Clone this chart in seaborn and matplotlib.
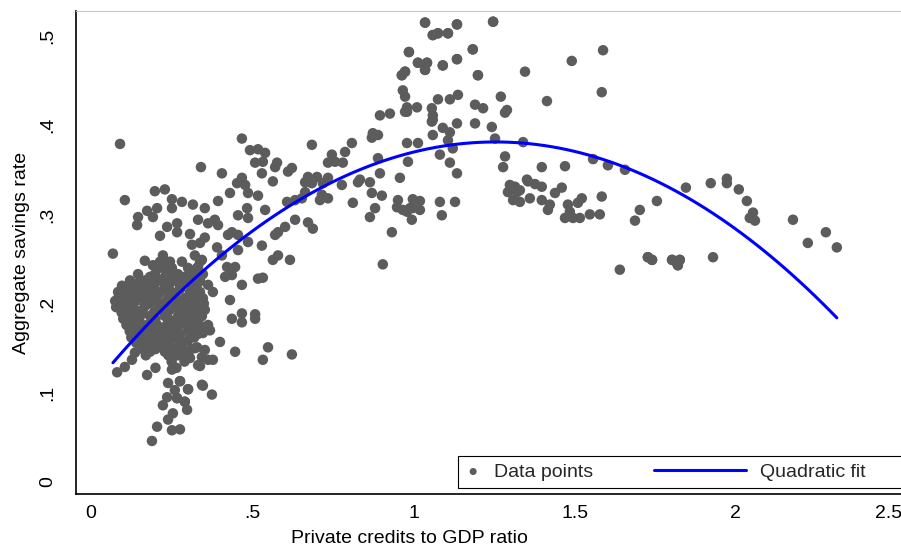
import numpy as np
import pandas as pd
import matplotlib
matplotlib.use("Agg")
import matplotlib.pyplot as plt
import matplotlib.transforms as mtransforms
import seaborn as sns
from matplotlib.lines import Line2D
from matplotlib.legend_handler import HandlerLine2D

# ---------------- data ----------------
x_a = [.090, .341, .198, .229, .105, .251, .282, .316, .174, .205, .251, .146, .192, .332,
       .143, .236, .267, .267, .307, .214, .313, .338, .068, .223, .167, .192, .322]
y_a = [.379, .353, .326, .328, .316, .317, .314, .311, .304, .307, .307, .297, .297, .294,
       .288, .286, .290, .280, .278, .276, .266, .268, .256, .254, .248, .243, .254]

x_b = [.081, .105, .127, .136, .167, .174, .251, .239, .276, .301, .260, .236, .267, .223,
       .291, .298, .254, .239, .205, .251, .276, .189, .344, .332, .344, .301, .322]
y_b = [.123, .129, .137, .145, .154, .120, .126, .111, .113, .104, .103, .095, .094, .086,
       .090, .081, .077, .070, .062, .058, .059, .046, .109, .131, .140, .142, .150]

x_blob = [.214, .245, .282, .338,
          .214, .229, .251, .301, .329,
          .146, .198, .239, .270, .313, .347,
          .121, .167, .214, .260, .291, .338,
          .096, .121, .183, .229, .276, .322,
          .084, .115, .146, .177, .214, .251, .307, .338,
          .084, .115, .158, .198, .239, .291, .332,
          .090, .121, .183, .220, .260, .313, .350,
          .105, .136, .208, .245, .282, .326,
          .115, .152, .183, .229, .270, .307, .344,
          .121, .152, .189, .251, .291, .332,
          .127, .167, .214, .260, .313,
          .136, .183, .229, .276, .332,
          .152, .198, .245, .301,
          .214, .270,
          .183, .229, .291,
          .251, .307]
y_blob = [.247, .247, .247, .247,
          .240, .240, .240, .240, .240,
          .233, .233, .233, .233, .233, .233,
          .226, .226, .226, .226, .226, .226,
          .220, .220, .220, .220, .220, .220,
          .213, .213, .213, .213, .213, .213, .213, .213,
          .206, .206, .206, .206, .206, .206, .206,
          .200, .200, .200, .200, .200, .200, .200,
          .193, .193, .193, .193, .193, .193,
          .186, .186, .186, .186, .186, .186, .186,
          .179, .179, .179, .179, .179, .179,
          .173, .173, .173, .173, .173,
          .166, .166, .166, .166, .166,
          .159, .159, .159, .159,
          .152, .152,
          .146, .146, .146,
          .139, .139]

x_dense = [.183, .229, .291, .325,
           .146, .198, .245, .307,
           .105, .136, .167, .198, .229, .276, .320,
           .100, .130, .170, .208, .262, .315,
           .075, .140, .200, .240, .280, .330,
           .078, .120, .165, .225, .265, .300, .340,
           .095, .125, .160, .195, .235, .300,
           .100, .140, .200, .240, .285, .325,
           .110, .140, .175, .205, .235, .275, .310,
           .120, .150, .195, .245, .300,
           .125, .160, .185, .215, .265, .320,
           .140, .180, .230, .285,
           .160, .200, .250, .310,
           .170, .240, .270,
           .250, .290,
           .200, .265]
y_dense = [.230, .230, .230, .230,
           .223, .223, .223, .223,
           .216, .216, .216, .216, .216, .216, .216,
           .209, .209, .209, .209, .209, .209,
           .203, .203, .203, .203, .203, .203,
           .196, .196, .196, .196, .196, .196, .196,
           .190, .190, .190, .190, .190, .190,
           .183, .183, .183, .183, .183, .183,
           .176, .176, .176, .176, .176, .176, .176,
           .169, .169, .169, .169, .169,
           .162, .162, .162, .162, .162, .162,
           .156, .156, .156, .156,
           .149, .149, .149, .149,
           .142, .142, .142,
           .135, .135,
           .128, .128]

x_c = [.468, .493, .518, .540, .509, .533, .571, .577, .623, .611, .530, .406, .564, .468,
       .453, .478, .431, .487, .518, .394, .353, .484, .456, .487, .540, .608, .633, .654,
       .363, .384, .394, .633, .602, .580, .571, .437, .456, .425, .487, .353, .530, .391,
       .456, .406, .580, .564, .617, .422, .447, .437, .416, .332, .344, .518, .533, .468,
       .332, .363]
y_c = [.385, .372, .373, .369, .358, .359, .353, .358, .352, .348, .346, .346, .337, .341,
       .335, .333, .324, .324, .321, .315, .307, .307, .299, .296, .305, .314, .316, .318,
       .290, .294, .288, .294, .286, .280, .277, .280, .277, .277, .269, .274, .265, .263,
       .260, .254, .254, .249, .249, .241, .241, .232, .230, .241, .249, .228, .229, .221,
       .223, .221]

x_d = [.431, .437, .468, .468, .509, .509, .347, .378, .353, .344, .363, .369, .347, .400,
       .329, .353, .447, .549, .533, .623, .363, .378, .338, .347, .375]
y_d = [.204, .183, .189, .179, .188, .183, .206, .213, .193, .174, .176, .170, .167, .157,
       .151, .148, .146, .151, .137, .143, .137, .137, .130, .108, .098]

x_e = [.896, .927, .974, .874, .890, .871, .685, .809, .980, 1.014, .747, .788, .757, .781,
       .735, .890, .983, .896, .958, .673, .701, .664, .685, .735, .719, .834, .865, .828,
       .778, .664, .716, .735, .710, .871, .902, .952, .998, 1.020, .812, .949, .967, .998,
       1.020, .881, .865, .995, .673, .688, .933, .905]
y_e = [.411, .413, .415, .391, .389, .386, .378, .380, .380, .380, .367, .370, .359, .358,
       .358, .363, .359, .346, .341, .342, .342, .336, .335, .341, .335, .339, .336, .336,
       .333, .325, .322, .318, .316, .324, .321, .316, .317, .315, .313, .308, .305, .307,
       .305, .307, .297, .294, .291, .284, .280, .244]

x_f = [1.036, 1.135, 1.247, 1.060, 1.076, 1.107, .986, 1.184, 1.014, 1.042, 1.036, 1.091,
       1.135, .974, .964, 1.200, 1.346, .967, .974, 1.076, 1.113, 1.138, .980, 1.011, .980,
       1.057, 1.060, 1.060, 1.191, 1.216, 1.271, 1.290, 1.284, 1.135, 1.191, 1.091, 1.243,
       1.057, 1.113, 1.060, 1.107, 1.122, 1.253, 1.340, 1.082, 1.113, 1.135, 1.284, 1.278,
       1.299, 1.315, 1.293, 1.321, 1.309, 1.330, 1.352, .989, .980, 1.082, 1.129, 1.088]
y_f = [.515, .513, .516, .501, .503, .503, .482, .485, .470, .470, .462, .467,
       .474, .460, .456, .456, .460, .439, .432, .429, .429, .434, .420, .420, .415,
       .419, .411, .406, .423, .419, .432, .417, .414, .402, .402, .397, .398,
       .404, .392, .389, .383, .374, .385, .381, .367, .358, .346, .365, .353,
       .333, .331, .325, .325, .316, .314, .339, .307, .303, .314, .314, .299]

x_g = [1.588, 1.491, 1.584, 1.414, 1.398, 1.470, 1.557, 1.603, 1.656, 1.355, 1.377, 1.398,
       1.330, 1.460, 1.439, 1.361, 1.398, 1.423, 1.417, 1.522, 1.510, 1.584, 1.479, 1.485,
       1.495, 1.470, 1.516, 1.547, 1.578, 1.702, 1.687]
y_g = [.484, .472, .437, .427, .353, .354, .362, .355, .350, .337, .334, .331,
       .327, .330, .324, .318, .316, .311, .305, .318, .313, .320, .311, .303,
       .296, .296, .296, .300, .300, .305, .293]

x_h = [1.845, 1.922, 1.972, 1.972, 2.009, 2.034, 2.053, 2.043, 2.059, 1.755, 2.177, 2.279,
       2.223, 2.313, 1.727, 1.740, 1.802, 1.826, 1.817, 1.820, 1.929, 1.640]
y_h = [.330, .335, .340, .335, .328, .315, .302, .296, .293, .315, .294, .280,
       .268, .263, .252, .249, .249, .249, .246, .243, .252, .238]

# observations hidden under visible dots (dense / overlapping spots)
x_hidden = [1.036, 1.135, 1.247, 1.060, 1.076, 1.107, .986, 1.184, 1.014, 1.042, 1.036, 1.091,
            1.135, .974, .964, 1.200,
            1.727, 1.740, 1.802, 1.826, 1.817, 1.820,
            .276, .301, .267, .291]
y_hidden = [.515, .513, .516, .501, .503, .503, .482, .485, .470, .470, .462, .467,
            .474, .460, .456, .456,
            .252, .249, .249, .249, .246, .243,
            .113, .104, .094, .090]

x_ticks = [0, 0.5, 1, 1.5, 2, 2.5]
x_tick_labels = ["0", ".5", "1", "1.5", "2", "2.5"]
y_ticks = [0, 0.1, 0.2, 0.3, 0.4, 0.5]
y_tick_labels = ["0", ".1", ".2", ".3", ".4", ".5"]

df = pd.DataFrame({
    "credit": x_a + x_b + x_blob + x_dense + x_c + x_d + x_e + x_f + x_g + x_h + x_hidden,
    "savings": y_a + y_b + y_blob + y_dense + y_c + y_d + y_e + y_f + y_g + y_h + y_hidden,
})

# ---------------- figure ----------------
sns.set_theme(style="white")
plt.rcParams["font.family"] = ["Liberation Sans", "DejaVu Sans"]

W, H = 901, 546
fig = plt.figure(figsize=(W / 100, H / 100), dpi=100)
ax = fig.add_axes([76 / W, (H - 494) / H, (901 - 76) / W, (494 - 11) / H])

point_color = "#5c5c5c"
sns.scatterplot(data=df, x="credit", y="savings", ax=ax, color=point_color, s=57,
                edgecolor="none", linewidth=0, legend=False, zorder=2)
sns.regplot(data=df, x="credit", y="savings", ax=ax, order=2, ci=None, scatter=False,
            color="#0000ff", line_kws=dict(lw=2.2, zorder=3), truncate=True)

ax.set_xlim(-0.0465, 2.512)
ax.set_ylim(-0.01345, 0.528)
ax.set_xticks(x_ticks)
ax.set_xticklabels(x_tick_labels)
ax.set_yticks(y_ticks)
ax.set_yticklabels(y_tick_labels, rotation=90, va="center")

ax.tick_params(axis="both", which="major", direction="out", length=5, width=0.8,
               color="black", labelsize=14, labelcolor="black")
ax.tick_params(axis="x", pad=3)
ax.tick_params(axis="y", pad=9)
ax.grid(False)
ax.set_facecolor("white")

# keep the last x tick label inside the picture, as in the reference
last_lbl = ax.get_xticklabels()[-1]
last_lbl.set_transform(last_lbl.get_transform() +
                       mtransforms.ScaledTranslation(-9 / 100, 0, fig.dpi_scale_trans))

for side in ["left", "bottom"]:
    ax.spines[side].set_visible(True)
    ax.spines[side].set_color("black")
    ax.spines[side].set_linewidth(1.2)
ax.spines["top"].set_visible(True)
ax.spines["top"].set_color("#c8c8c8")
ax.spines["top"].set_linewidth(0.8)
ax.spines["right"].set_visible(False)

ax.set_xlabel("Private credits to GDP ratio", fontsize=14, color="black")
ax.set_ylabel("Aggregate savings rate", fontsize=14, color="black")
ax.xaxis.set_label_coords((409 - 76) / 825, (494 - 530) / 483)
ax.yaxis.set_label_coords((30 - 76) / 825, 0.5)

# ---------------- legend ----------------
fs_px = 14 * 100 / 72
scatter_handle = ax.collections[0]
line_handle = ax.lines[0]
blank = Line2D([], [], color="none")
line_len_px = 92
hl = 0.8
leg = ax.legend(
    [scatter_handle, line_handle, blank], ["Data points", "Quadratic fit", ""],
    handler_map={line_handle: HandlerLine2D(xpad=-(line_len_px / fs_px - hl))},
    ncol=3, fontsize=14, loc="lower left",
    bbox_to_anchor=(458 / W, 1 - 488 / H), bbox_transform=fig.transFigure,
    borderaxespad=0, borderpad=0.38, handlelength=hl, handletextpad=0.68,
    columnspacing=7.07, markerscale=0.67, frameon=True, fancybox=False,
    edgecolor="black", framealpha=1, facecolor="white",
)
leg.get_frame().set_linewidth(0.8)

fig.savefig("out.png", dpi=100)
